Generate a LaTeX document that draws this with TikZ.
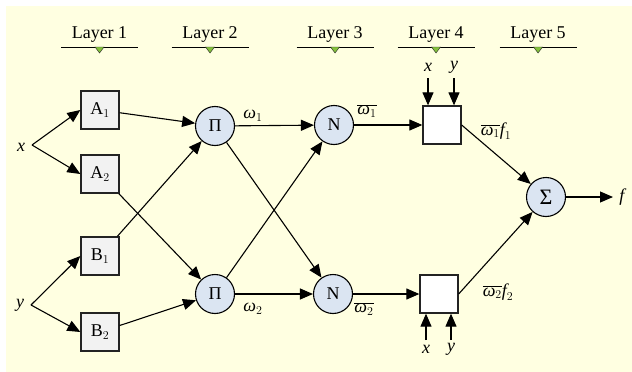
\documentclass[tikz,border=0pt]{standalone}
\usepackage{fontspec}
\setmainfont{Liberation Serif}
\usetikzlibrary{arrows.meta}
\definecolor{bgy}{RGB}{255,255,225}
\definecolor{boxg}{RGB}{242,242,242}
\definecolor{cblue}{RGB}{219,229,242}
\definecolor{tgreen}{RGB}{132,194,60}
\definecolor{edgec}{RGB}{35,35,35}
\newcommand\om{\textit{ω}}
\begin{document}
\begin{tikzpicture}[x=1pt,y=-1pt,
  font=\fontsize{18}{21}\selectfont,
  mf/.style={draw=edgec, line width=1.3pt, fill=boxg, minimum size=38pt, inner sep=0pt},
  rb/.style={draw=edgec, line width=1.3pt, fill=white, minimum size=38pt, inner sep=0pt},
  op/.style={circle, draw=black, line width=1.1pt, fill=cblue, minimum size=39pt, inner sep=0pt},
  conn/.style={line width=1.1pt, -{Triangle[length=13pt,width=11pt]}},
  lay/.style={anchor=base},
  lrule/.style={line width=1pt, draw=black},
  tri/.style={fill=tgreen, draw=edgec, line width=0.4pt},
  lbl/.style={inner sep=0pt}]
\useasboundingbox (0,0) rectangle (632,372);
\fill[bgy] (6,6) rectangle (632,372);
% layer headers
\foreach \i/\cx in {1/99.5,2/210,3/335,4/436,5/538}{
  \node[lay] (L\i) at (\cx,38) {Layer \i};
  \draw[lrule] (\cx-38.5,47) -- (\cx+38.5,47);
  \draw[tri] (\cx-4.5,47) -- (\cx+4.5,47) -- (\cx,53) -- cycle;
}
% layer 1
\node[mf] (A1) at (100,110) {$\mathrm{A}_{1}$};
\node[mf] (A2) at (100,174) {$\mathrm{A}_{2}$};
\node[mf] (B1) at (100,256) {$\mathrm{B}_{1}$};
\node[mf] (B2) at (100,332) {$\mathrm{B}_{2}$};
% layer 2
\node[op] (P1) at (215,126) {Π};
\node[op] (P2) at (215,294) {Π};
% layer 3
\node[op] (N1) at (334,125) {N};
\node[op] (N2) at (333,294) {N};
% layer 4
\node[rb] (R1) at (442,125) {};
\node[rb] (R2) at (439,294) {};
% layer 5
\node[op] (S) at (546,197) {\fontsize{22}{24}\selectfont Σ};
% inputs
\node[lbl] (xl) at (21,147) {\textit{x}};
\node[lbl] (yl) at (20,305) {\textit{y}};
\coordinate (xb) at (32,145);
\coordinate (yb) at (31,305);
\draw[conn] (xb) -- (A1.west);
\draw[conn] (xb) -- (A2.west);
\draw[conn] (yb) -- (B1.west);
\draw[conn] (yb) -- (B2.west);
% layer 1 -> 2
\draw[conn] (A1) -- (P1);
\draw[conn] (A2) -- (P2);
\draw[conn] (B1) -- (P1);
\draw[conn] (B2) -- (P2);
% layer 2 -> 3
\draw[conn] (P1) -- (N1);
\draw[conn] (P1) -- (N2);
\draw[conn] (P2) -- (N1);
\draw[conn] (P2) -- (N2);
\node[lbl] (w1) at (253,116) {$\om_{1}$};
\node[lbl] (w2) at (253,309) {$\om_{2}$};
% layer 3 -> 4
\draw[conn] (N1) -- (R1);
\draw[conn] (N2) -- (R2);
\node[lbl] (nw1) at (367,111) {$\overline{\om_{1}}$};
\node[lbl] (nw2) at (364,309) {$\overline{\om_{2}}$};
% x y into layer 4
\node[lbl] (xt) at (428,67) {\textit{x}};
\node[lbl] (yt) at (454,67) {\textit{y}};
\coordinate (xt0) at (428,78);
\coordinate (yt0) at (454,78);
\draw[conn] (xt0) -- (xt0 |- R1.north);
\draw[conn] (yt0) -- (yt0 |- R1.north);
\node[lbl] (xbt) at (426,349) {\textit{x}};
\node[lbl] (ybt) at (451,349) {\textit{y}};
\coordinate (xb0) at (426,340);
\coordinate (yb0) at (451,340);
\draw[conn] (xb0) -- (xb0 |- R2.south);
\draw[conn] (yb0) -- (yb0 |- R2.south);
% layer 4 -> 5
\draw[conn] (R1.east) -- (S);
\draw[conn] (R2.east) -- (S);
\node[lbl] (o1) at (496,131) {$\overline{\om_{1}}\textit{f}_{1}$};
\node[lbl] (o2) at (498,292) {$\overline{\om_{2}}\textit{f}_{2}$};
% output
\node[lbl] (fo) at (623,197) {\textit{f}};
\coordinate (fe) at (613,197);
\draw[conn] (S) -- (fe);
\end{tikzpicture}
\end{document}
